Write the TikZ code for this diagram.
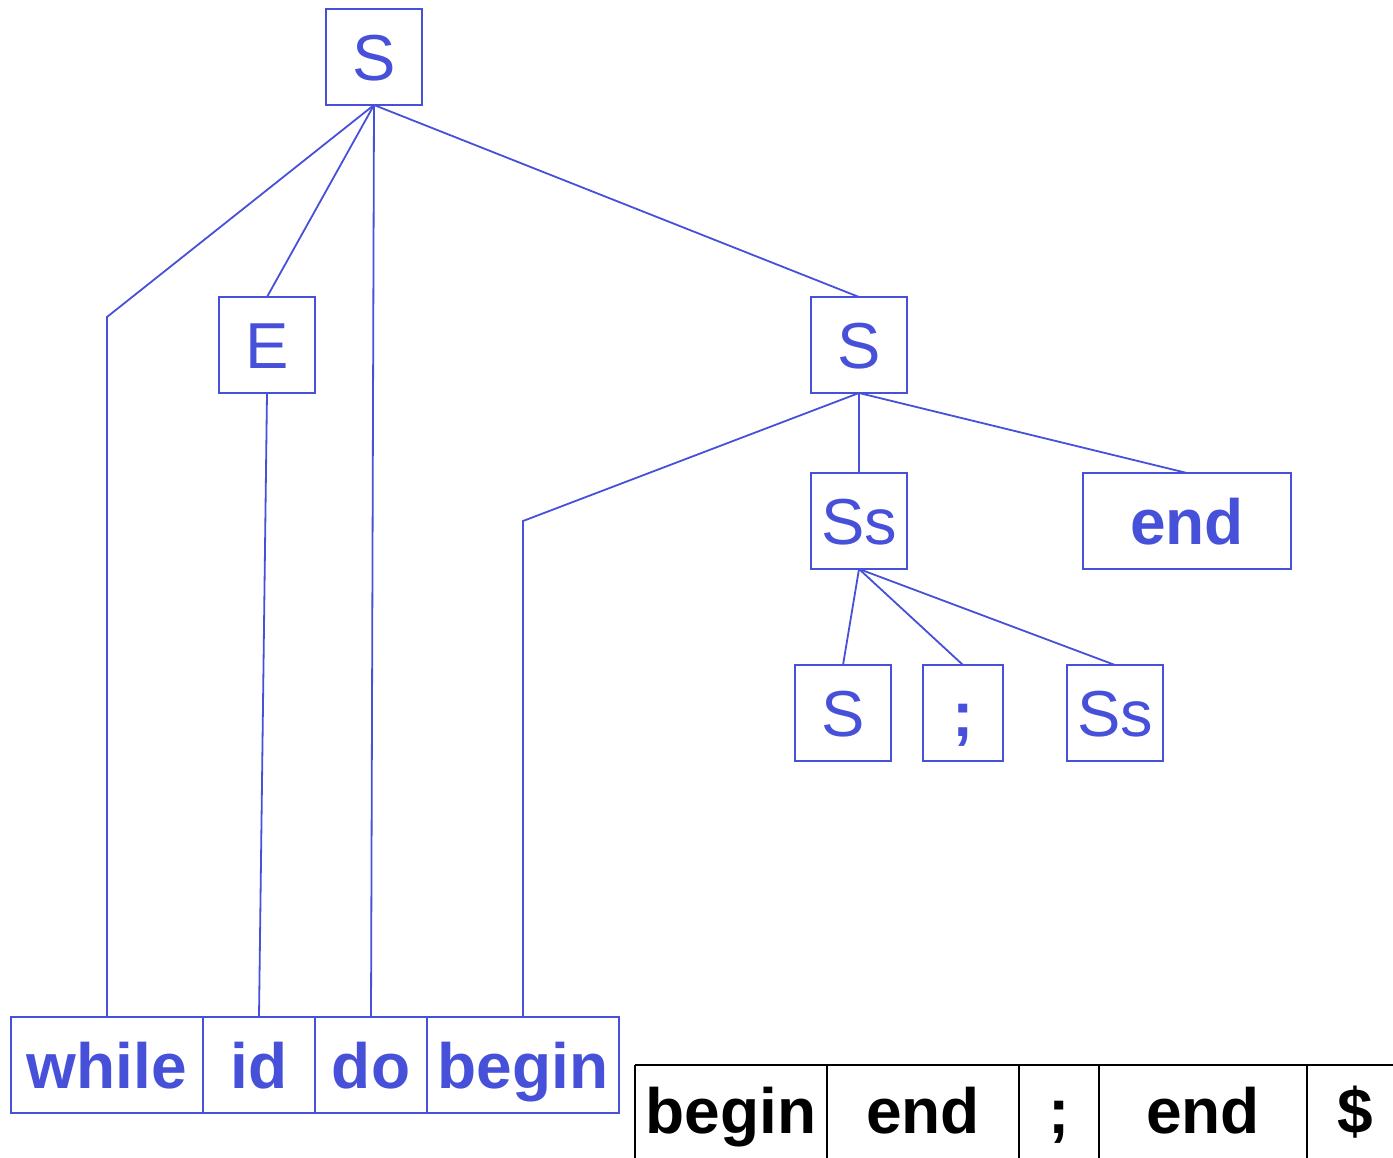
\documentclass[tikz,border=0pt]{standalone}
\usepackage{fontspec}
\setmainfont{Liberation Sans}
\definecolor{tblue}{RGB}{70,80,216}
\begin{document}
\begin{tikzpicture}[x=1pt,y=-1pt,
  box/.style={draw=tblue,line width=1.8pt,outer sep=0pt,inner sep=0pt,
    minimum height=96pt,text=tblue,font=\fontsize{65}{70}\selectfont,
    text height=47pt,text depth=0pt},
  nt/.style={box,minimum width=96pt},
  term/.style={box,font=\fontsize{64}{70}\selectfont\bfseries},
  edge/.style={draw=tblue,line width=1.8pt},
  cell/.style={outer sep=0pt,inner sep=0pt,
    minimum height=90pt,anchor=north west,
    font=\fontsize{64}{70}\selectfont\bfseries,text height=46pt,text depth=0pt},
  rule/.style={draw=black,line width=1.8pt},
]
\useasboundingbox (0,0) rectangle (1393,1158);
\clip (0,0) rectangle (1393,1158);
% tree nodes
\node[nt] (s1) at (374,57) {S};
\node[nt] (e) at (267,345) {E};
\node[nt] (s2) at (859,345) {S};
\node[nt] (ss) at (859,521) {Ss};
\node[term,minimum width=208pt] (end) at (1187,521) {end};
\node[nt] (s3) at (843,713) {S};
\node[term,minimum width=80pt] (semi) at (963,713) {;};
\node[nt] (ss2) at (1115,713) {Ss};
% bottom terminals
\node[term,minimum width=192pt] (while) at (107,1065) {while};
\node[term,minimum width=112pt] (id) at (259,1065) {id};
\node[term,minimum width=112pt] (do) at (371,1065) {do};
\node[term,minimum width=192pt] (begin) at (523,1065) {begin};
% bend points
\coordinate (cw) at (107,317);
\coordinate (cb) at (523,521);
% edges
\draw[edge] (s1.south) -- (cw) -- (while.north);
\draw[edge] (s1.south) -- (e.north);
\draw[edge] (s1.south) -- (do.north);
\draw[edge] (s1.south) -- (s2.north);
\draw[edge] (e.south) -- (id.north);
\draw[edge] (s2.south) -- (cb) -- (begin.north);
\draw[edge] (s2.south) -- (ss.north);
\draw[edge] (s2.south) -- (end.north);
\draw[edge] (ss.south) -- (s3.north);
\draw[edge] (ss.south) -- (semi.north);
\draw[edge] (ss.south) -- (ss2.north);
% input table
\node[cell,minimum width=192pt] (t1) at (635,1065) {begin};
\node[cell,minimum width=192pt] (t2) at (827,1065) {end};
\node[cell,minimum width=80pt] (t3) at (1019,1065) {;};
\node[cell,minimum width=208pt] (t4) at (1099,1065) {end};
\node[cell,minimum width=96pt] (t5) at (1307,1065) {\$};
\coordinate (tr) at (1400,1065);
\draw[rule] (t1.north west) -- (tr);
\foreach \c in {t1,t2,t3,t4,t5}
  \draw[rule] (\c.north west) -- ++(0,120);
\end{tikzpicture}
\end{document}
